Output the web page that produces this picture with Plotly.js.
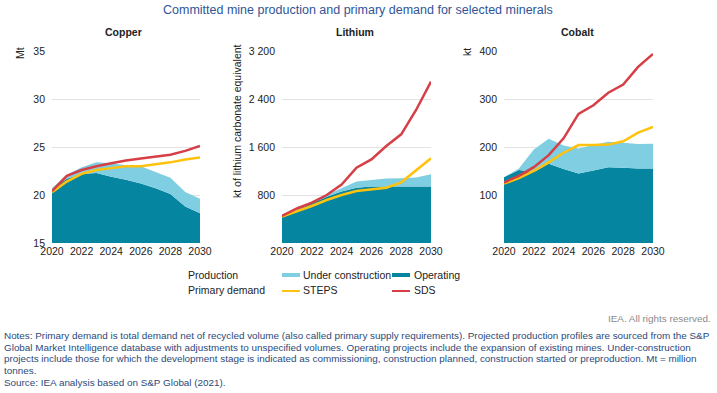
<!DOCTYPE html>
<html>
<head>
<meta charset="utf-8">
<script src="https://cdn.plot.ly/plotly-3.0.1.min.js"></script>
<style>html,body{margin:0;padding:0;background:#fff;}#chart{width:717px;height:393px;}</style>
</head>
<body>
<div id="chart"></div>
<script>
var years = [2020, 2021, 2022, 2023, 2024, 2025, 2026, 2027, 2028, 2029, 2030];

// Copper (Mt)
var copperOperating = [20.6, 21.7, 22.2, 22.3, 21.9, 21.6, 21.2, 20.7, 20.1, 18.8, 18.1];
var copperTotal     = [20.7, 22.1, 22.9, 23.4, 23.3, 23.1, 23.0, 22.4, 21.8, 20.3, 19.6];
var copperSTEPS     = [20.3, 21.4, 22.2, 22.6, 22.8, 23.0, 23.0, 23.2, 23.4, 23.7, 23.9];
var copperSDS       = [20.4, 22.0, 22.6, 23.0, 23.3, 23.6, 23.8, 24.0, 24.2, 24.6, 25.1];

// Lithium (kt LCE)
var lithiumOperating = [440, 550, 660, 770, 860, 920, 940, 940, 950, 945, 940];
var lithiumTotal     = [440, 555, 670, 805, 920, 1025, 1050, 1075, 1080, 1090, 1145];
var lithiumSTEPS     = [440, 522, 617, 717, 800, 867, 894, 922, 1011, 1217, 1411];
var lithiumSDS       = [450, 575, 672, 800, 975, 1255, 1394, 1617, 1811, 2217, 2689];

// Cobalt (kt)
var cobaltOperating = [137, 152, 148, 165, 154, 145, 151, 158, 157, 155, 155];
var cobaltTotal     = [137, 155, 195, 217, 203, 197, 204, 211, 209, 206, 207];
var cobaltSTEPS     = [124, 135, 150, 168, 188, 204, 204, 205, 212, 230, 242];
var cobaltSDS       = [126, 140, 158, 183, 218, 269, 287, 313, 330, 367, 394];

var xTickVals = [2020, 2022, 2024, 2026, 2028, 2030];
var copperTicks = [15, 20, 25, 30, 35];
var copperTickText = ['15', '20', '25', '30', '35'];
var lithiumTicks = [800, 1600, 2400, 3200];
var lithiumTickText = ['800', '1 600', '2 400', '3 200'];
var cobaltTicks = [100, 200, 300, 400];
var cobaltTickText = ['100', '200', '300', '400'];

var panelNames = ['Copper', 'Lithium', 'Cobalt'];
var yTitles = ['Mt', 'kt of lithium carbonate equivalent', 'kt'];

var cLight = '#80CEE1';
var cDark = '#05859F';
var cSTEPS = '#FFC20E';
var cSDS = '#D63F46';

var W = 717, H = 393;
function px(x) { return x / W; }
function py(y) { return 1 - y / H; }

function panelTraces(op, tot, steps, sds, xa, ya) {
  return [
    {x: years, y: op, xaxis: xa, yaxis: ya, type: 'scatter', mode: 'lines', line: {width: 0, color: cDark},
     fill: 'tozeroy', fillcolor: cDark, hoverinfo: 'skip', showlegend: false},
    {x: years, y: tot, xaxis: xa, yaxis: ya, type: 'scatter', mode: 'lines', line: {width: 0, color: cLight},
     fill: 'tonexty', fillcolor: cLight, hoverinfo: 'skip', showlegend: false},
    {x: years, y: steps, xaxis: xa, yaxis: ya, type: 'scatter', mode: 'lines', line: {width: 2.5, color: cSTEPS},
     hoverinfo: 'skip', showlegend: false},
    {x: years, y: sds, xaxis: xa, yaxis: ya, type: 'scatter', mode: 'lines', line: {width: 2.5, color: cSDS},
     hoverinfo: 'skip', showlegend: false}
  ];
}

var data = [].concat(
  panelTraces(copperOperating, copperTotal, copperSTEPS, copperSDS, 'x', 'y'),
  panelTraces(lithiumOperating, lithiumTotal, lithiumSTEPS, lithiumSDS, 'x2', 'y2'),
  panelTraces(cobaltOperating, cobaltTotal, cobaltSTEPS, cobaltSDS, 'x3', 'y3')
);

var tickFont = {family: 'Liberation Sans, Arial, sans-serif', size: 10.5, color: '#222'};
var yDom = [py(243), py(51)];

function xAxis(dom, anchor) {
  return {domain: dom, anchor: anchor, range: [2020, 2030], tickvals: xTickVals, showgrid: false,
          zeroline: false, showline: false, ticks: '', tickfont: tickFont, fixedrange: true};
}
function yAxis(anchor, range, tv, tt) {
  return {domain: yDom, anchor: anchor, range: range, tickvals: tv, ticktext: tt, showgrid: true,
          gridcolor: '#e3e3e3', gridwidth: 1, zeroline: false, showline: false, ticks: '',
          tickfont: tickFont, ticklabelstandoff: 6, fixedrange: true};
}

var txtFont = {family: 'Liberation Sans, Arial, sans-serif', size: 10.5, color: '#222'};
var noteFont = {family: 'Liberation Sans, Arial, sans-serif', size: 9.9, color: '#2B4A7A'};

var annotations = [
  {text: 'Committed mine production and primary demand for selected minerals', x: px(358), y: py(10),
   xref: 'paper', yref: 'paper', xanchor: 'center', yanchor: 'middle', showarrow: false,
   font: {family: 'Liberation Sans, Arial, sans-serif', size: 12.5, color: '#2F5597'}},
  {text: '<b>' + panelNames[0] + '</b>', x: px(123), y: py(32), xref: 'paper', yref: 'paper', xanchor: 'center', yanchor: 'middle', showarrow: false, font: txtFont},
  {text: '<b>' + panelNames[1] + '</b>', x: px(355), y: py(32), xref: 'paper', yref: 'paper', xanchor: 'center', yanchor: 'middle', showarrow: false, font: txtFont},
  {text: '<b>' + panelNames[2] + '</b>', x: px(577), y: py(32), xref: 'paper', yref: 'paper', xanchor: 'center', yanchor: 'middle', showarrow: false, font: txtFont},
  {text: yTitles[0], x: px(20), y: py(53), xref: 'paper', yref: 'paper', xanchor: 'center', yanchor: 'middle', textangle: -90, showarrow: false, font: txtFont},
  {text: yTitles[1], x: px(237), y: py(121), xref: 'paper', yref: 'paper', xanchor: 'center', yanchor: 'middle', textangle: -90, showarrow: false, font: txtFont},
  {text: yTitles[2], x: px(467), y: py(52), xref: 'paper', yref: 'paper', xanchor: 'center', yanchor: 'middle', textangle: -90, showarrow: false, font: txtFont},
  // legend
  {text: 'Production', x: px(186), y: py(275), xref: 'paper', yref: 'paper', xanchor: 'left', yanchor: 'middle', showarrow: false, font: txtFont},
  {text: 'Primary demand', x: px(186), y: py(290), xref: 'paper', yref: 'paper', xanchor: 'left', yanchor: 'middle', showarrow: false, font: txtFont},
  {text: 'Under construction', x: px(301), y: py(275), xref: 'paper', yref: 'paper', xanchor: 'left', yanchor: 'middle', showarrow: false, font: txtFont},
  {text: 'Operating', x: px(412), y: py(275), xref: 'paper', yref: 'paper', xanchor: 'left', yanchor: 'middle', showarrow: false, font: txtFont},
  {text: 'STEPS', x: px(301), y: py(290), xref: 'paper', yref: 'paper', xanchor: 'left', yanchor: 'middle', showarrow: false, font: txtFont},
  {text: 'SDS', x: px(412), y: py(290), xref: 'paper', yref: 'paper', xanchor: 'left', yanchor: 'middle', showarrow: false, font: txtFont},
  {text: 'IEA. All rights reserved.', x: px(713), y: py(318), xref: 'paper', yref: 'paper', xanchor: 'right', yanchor: 'middle', showarrow: false,
   font: {family: 'Liberation Sans, Arial, sans-serif', size: 9.9, color: '#8a8a8a'}}
];

var notes = [
  'Notes: Primary demand is total demand net of recycled volume (also called primary supply requirements). Projected production profiles are sourced from the S&amp;P',
  'Global Market Intelligence database with adjustments to unspecified volumes. Operating projects include the expansion of existing mines. Under-construction',
  'projects include those for which the development stage is indicated as commissioning, construction planned, construction started or preproduction. Mt = million',
  'tonnes.',
  'Source: IEA analysis based on S&amp;P Global (2021).'
];
var noteY = [335, 347, 358.5, 370, 382];
notes.forEach(function (t, i) {
  annotations.push({text: t, x: px(2), y: py(noteY[i]), xref: 'paper', yref: 'paper', xanchor: 'left', yanchor: 'middle',
                    showarrow: false, font: noteFont});
});

var shapes = [
  {type: 'rect', xref: 'paper', yref: 'paper', x0: px(282), x1: px(300), y0: py(277), y1: py(273), fillcolor: cLight, line: {width: 0}},
  {type: 'rect', xref: 'paper', yref: 'paper', x0: px(392), x1: px(410), y0: py(277), y1: py(273), fillcolor: cDark, line: {width: 0}},
  {type: 'line', xref: 'paper', yref: 'paper', x0: px(282), x1: px(300), y0: py(291), y1: py(291), line: {width: 2, color: cSTEPS}},
  {type: 'line', xref: 'paper', yref: 'paper', x0: px(392), x1: px(410), y0: py(291), y1: py(291), line: {width: 2, color: cSDS}}
];

var layout = {
  width: W, height: H,
  margin: {l: 0, r: 0, t: 0, b: 0, pad: 0},
  paper_bgcolor: '#ffffff', plot_bgcolor: '#ffffff',
  showlegend: false,
  font: {family: 'Liberation Sans, Arial, sans-serif'},
  xaxis: xAxis([px(52), px(200)], 'y'),
  yaxis: yAxis('x', [15, 35], copperTicks, copperTickText),
  xaxis2: xAxis([px(282), px(431)], 'y2'),
  yaxis2: yAxis('x2', [0, 3200], lithiumTicks, lithiumTickText),
  xaxis3: xAxis([px(504), px(653)], 'y3'),
  yaxis3: yAxis('x3', [0, 400], cobaltTicks, cobaltTickText),
  annotations: annotations,
  shapes: shapes
};

Plotly.newPlot('chart', data, layout, {staticPlot: true, displayModeBar: false});
</script>
</body>
</html>
